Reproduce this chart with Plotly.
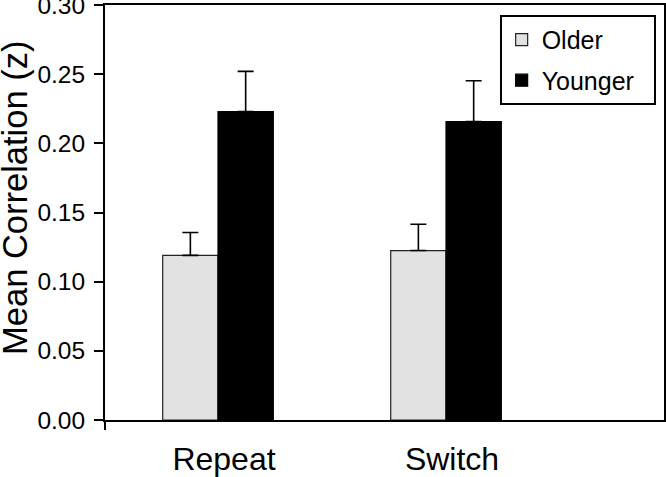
import plotly.graph_objects as go

categories = ["Repeat", "Switch"]
series_names = ["Older", "Younger"]
older_mean = [0.119, 0.1225]
older_err = [0.0165, 0.019]
younger_mean = [0.223, 0.2157]
younger_err = [0.029, 0.0295]
y_ticks = [0.00, 0.05, 0.10, 0.15, 0.20, 0.25, 0.30]
y_ticktext = ["0.00", "0.05", "0.10", "0.15", "0.20", "0.25", "0.30"]

FONT = "Arial, Liberation Sans, Helvetica, sans-serif"
PAD = "\u00a0\u00a0"

fig = go.Figure()
fig.add_trace(go.Bar(
    x=categories, y=older_mean, name=series_names[0] + PAD,
    marker=dict(color="#e2e2e2", line=dict(color="#222222", width=1.2)),
    error_y=dict(type="data", symmetric=False, array=older_err, arrayminus=[0, 0],
                 color="black", thickness=1.6, width=8),
    legendgroup="a",
))
fig.add_trace(go.Bar(
    x=categories, y=younger_mean, name=series_names[1] + PAD,
    marker=dict(color="black", line=dict(color="black", width=1.2)),
    error_y=dict(type="data", symmetric=False, array=younger_err, arrayminus=[0, 0],
                 color="black", thickness=1.6, width=8),
    legendgroup="b",
))

fig.update_layout(
    width=666, height=477,
    margin=dict(l=105, r=2, t=5, b=57, autoexpand=False),
    paper_bgcolor="white", plot_bgcolor="white",
    barmode="group", bargap=0.515, bargroupgap=0,
    font=dict(family=FONT, color="black"),
    showlegend=True,
    legend=dict(
        x=0.706, y=0.976, xanchor="left", yanchor="top",
        bordercolor="black", borderwidth=2, bgcolor="white",
        font=dict(size=25, family=FONT, color="black"),
        traceorder="grouped", tracegroupgap=5,
    ),
    xaxis=dict(
        range=[-0.4956, 1.956], automargin=False,
        showline=True, linecolor="black", linewidth=2, mirror=True,
        ticks="", showgrid=False, zeroline=False,
        tickfont=dict(size=32, family=FONT, color="black"),
        ticklabelstandoff=10, ticklabelshift=6, ticklabeloverflow="allow",
    ),
    yaxis=dict(
        range=[0, 0.30], automargin=False,
        tickvals=y_ticks, ticktext=y_ticktext,
        showline=True, linecolor="black", linewidth=2, mirror=True,
        ticks="outside", ticklen=9, tickwidth=2, tickcolor="black",
        showgrid=False, zeroline=False,
        tickfont=dict(size=24.5, family=FONT, color="black"),
        ticklabelstandoff=4, ticklabeloverflow="allow",
    ),
    annotations=[dict(
        text="Mean Correlation (z)", textangle=-90,
        xref="paper", yref="paper", x=-0.161, y=0.535,
        xanchor="center", yanchor="middle", showarrow=False,
        font=dict(size=34.5, family=FONT, color="black"),
    )],
    shapes=[dict(
        type="line", xref="paper", yref="paper",
        x0=0, x1=0, y0=0, y1=-0.024,
        line=dict(color="black", width=2),
    )],
)

fig.write_html(
    "out.html",
    config={"displayModeBar": False},
    post_script="document.body.style.margin='0';document.body.style.overflow='hidden';",
)
